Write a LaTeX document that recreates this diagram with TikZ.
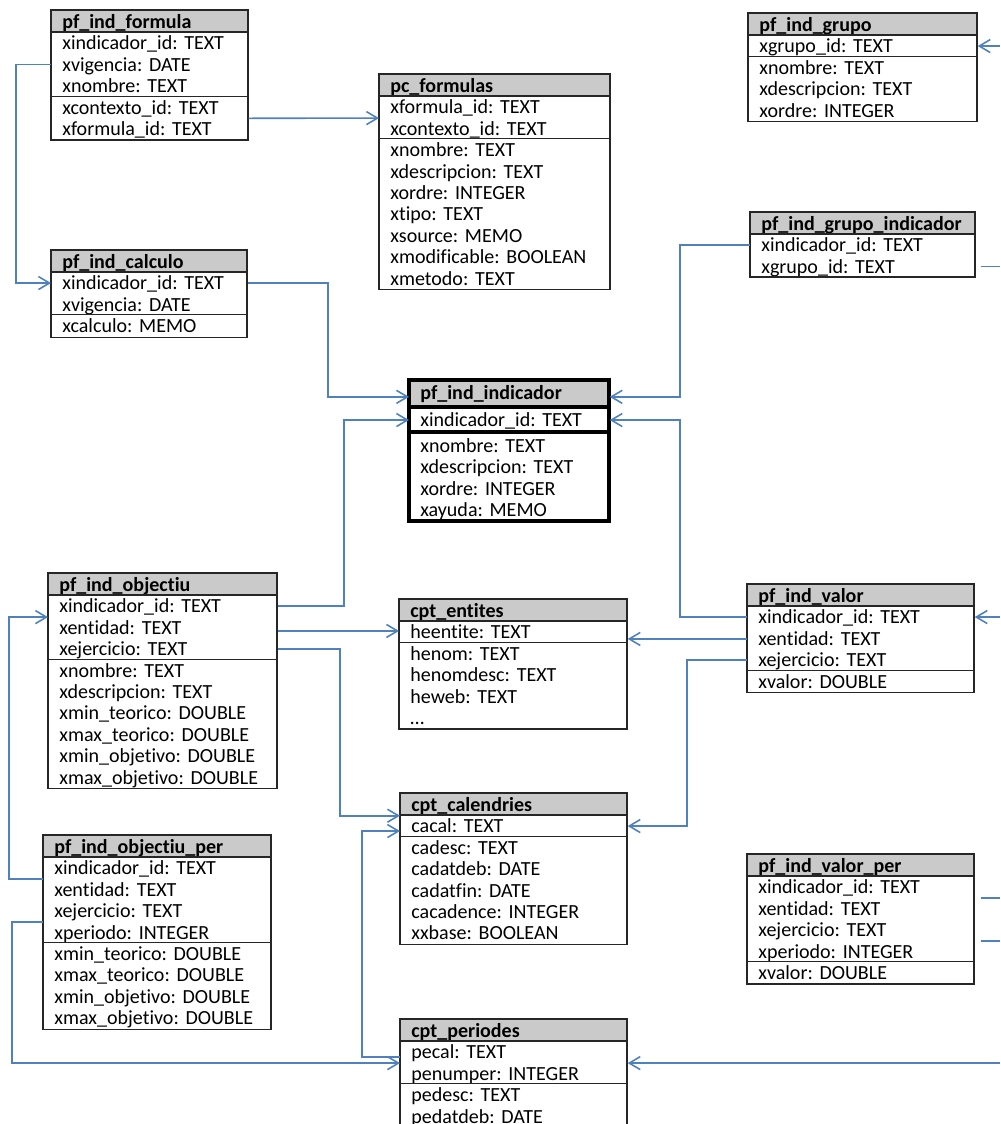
\documentclass[tikz,border=0pt]{standalone}
\usepackage{fontspec}
\setmainfont{Carlito}[Ligatures=NoCommon]
\usetikzlibrary{arrows.meta}
\definecolor{linkblue}{HTML}{4F81BD}
\definecolor{headgray}{HTML}{CACACA}
\frenchspacing

\begin{document}
\begin{tikzpicture}[x=0.02cm, y=-0.02cm,
    tableframe/.style = {draw=black!85, line width=0.7pt},
    tablehead/.style = {fill=headgray, anchor=north west, inner xsep=0.22cm, inner ysep=0pt,
        minimum height=\headh*0.02cm, font=\fontsize{11.4}{13}\selectfont\bfseries, align=left,
        text height=9.6pt, text depth=1.8pt},
    tablefield/.style = {anchor=north west, inner xsep=0.22cm, inner ysep=0pt,
        minimum height=\rowh*0.02cm, font=\fontsize{11.4}{13}\selectfont, align=left,
        text height=9.6pt, text depth=1.8pt},
    fklink/.style = {draw=linkblue, line width=0.9pt, -{Straight Barb[length=0.22cm, width=0.26cm]}},
    headh/.store in = \headh, sepgap/.store in = \sepgap,
    pics/entitytable/.style n args = {4}{code = {
        \pgfmathsetlengthmacro\tw{#1*0.02cm-0.44cm}
        \node[tablehead, text width=\tw] (-h) at (0,0) {#3};
        \foreach \f [count=\i] in {#4} {
          \pgfmathsetmacro\yy{\headh+\sepgap+(\i-1)*\rowh+(\i>#2)*\sepgap}
          \node[tablefield, text width=\tw] (-\i) at (0,\yy) {\f};
          \xdef\nfields{\i}
        }
        \draw[tableframe] (0,\headh+\sepgap/2) -- (#1,\headh+\sepgap/2);
        \draw[tableframe] (0,\headh+1.5*\sepgap+#2*\rowh) -- (#1,\headh+1.5*\sepgap+#2*\rowh);
        \draw[tableframe] (0,0) rectangle (#1,\headh+2*\sepgap+\nfields*\rowh+1);
    }}
  ]
  \def\headh{22} \def\rowh{21.4} \def\sepgap{0}
  \useasboundingbox (0,0) rectangle (1000,1124);

  % tables
  \pic (formula) at (51,10) {entitytable={197}{3}{pf\_ind\_formula}{xindicador\_id: TEXT, xvigencia: DATE, xnombre: TEXT, xcontexto\_id: TEXT, xformula\_id: TEXT}};
  \pic (pcform) at (379,74) {entitytable={231}{2}{pc\_formulas}{xformula\_id: TEXT, xcontexto\_id: TEXT, xnombre: TEXT, xdescripcion: TEXT, xordre: INTEGER, xtipo: TEXT, xsource: MEMO, xmodificable: BOOLEAN, xmetodo: TEXT}};
  \pic (grupo) at (748,13) {entitytable={229}{1}{pf\_ind\_grupo}{xgrupo\_id: TEXT, xnombre: TEXT, xdescripcion: TEXT, xordre: INTEGER}};
  \pic (grupoind) at (750,212) {entitytable={225}{2}{pf\_ind\_grupo\_indicador}{xindicador\_id: TEXT, xgrupo\_id: TEXT}};
  \pic (calculo) at (51,250) {entitytable={196}{2}{pf\_ind\_calculo}{xindicador\_id: TEXT, xvigencia: DATE, xcalculo: MEMO}};
  \pic[headh=25, sepgap=4, tableframe/.style={draw=black, line width=2.3pt}] (indicador) at (409,380)
      {entitytable={200}{1}{pf\_ind\_indicador}{xindicador\_id: TEXT, xnombre: TEXT, xdescripcion: TEXT, xordre: INTEGER, xayuda: MEMO}};
  \pic (objectiu) at (48,573) {entitytable={229}{3}{pf\_ind\_objectiu}{xindicador\_id: TEXT, xentidad: TEXT, xejercicio: TEXT, xnombre: TEXT, xdescripcion: TEXT, xmin\_teorico: DOUBLE, xmax\_teorico: DOUBLE, xmin\_objetivo: DOUBLE, xmax\_objetivo: DOUBLE}};
  \pic (entites) at (399,599) {entitytable={228}{1}{cpt\_entites}{heentite: TEXT, henom: TEXT, henomdesc: TEXT, heweb: TEXT, \dots}};
  \pic (valor) at (747,584) {entitytable={227}{3}{pf\_ind\_valor}{xindicador\_id: TEXT, xentidad: TEXT, xejercicio: TEXT, xvalor: DOUBLE}};
  \pic (calendries) at (400,793) {entitytable={227}{1}{cpt\_calendries}{cacal: TEXT, cadesc: TEXT, cadatdeb: DATE, cadatfin: DATE, cacadence: INTEGER, xxbase: BOOLEAN}};
  \pic (valorper) at (747,854) {entitytable={227}{4}{pf\_ind\_valor\_per}{xindicador\_id: TEXT, xentidad: TEXT, xejercicio: TEXT, xperiodo: INTEGER, xvalor: DOUBLE}};
  \pic (objper) at (43,835) {entitytable={228}{4}{pf\_ind\_objectiu\_per}{xindicador\_id: TEXT, xentidad: TEXT, xejercicio: TEXT, xperiodo: INTEGER, xmin\_teorico: DOUBLE, xmax\_teorico: DOUBLE, xmin\_objetivo: DOUBLE, xmax\_objetivo: DOUBLE}};
  \pic (periodes) at (400,1019) {entitytable={227}{2}{cpt\_periodes}{pecal: TEXT, penumper: INTEGER, pedesc: TEXT, pedatdeb: DATE}};

  % links
  \coordinate (borde) at (1000,0);
  \draw[fklink] (formula-2.west) -- ++(-35,0) |- (calculo-1.west);
  \draw[fklink] (formula-4.south east) -- (pcform-1.south west);
  \draw[fklink] (calculo-1.east) -- ++(80,0) |- ([yshift=-0.08cm]indicador-h.west);
  \draw[fklink] (objectiu-1.east) -- ++(66,0) |- (indicador-1.west);
  \draw[fklink] (grupoind-1.west) -- ++(-70,0) |- ([yshift=-0.08cm]indicador-h.east);
  \draw[fklink] (valor-1.west) -- ++(-67,0) |- (indicador-1.east);
  \draw[fklink] ([yshift=-0.01cm]valor-2.west) -- ([yshift=-0.01cm]valor-2.west -| entites-1.east);
  \draw[fklink] (valor-3.west) -- ++(-60,0) |- (calendries-1.east);
  \draw[fklink] ([yshift=-0.07cm]objectiu-2.east) -- ([yshift=-0.07cm]objectiu-2.east -| entites-1.west);
  \draw[fklink] (objectiu-3.east) -- ++(62,0) |- (calendries-h.south west);
  \draw[fklink] (objper-1.south west) -- ++(-34,0) |- (objectiu-1.south west);
  \draw[fklink] (objper-3.south west) -- ++(-31,0) |- (periodes-1.south west);
  \draw[fklink] ([yshift=-0.1cm]periodes-1.west) -- ++(-38,0) |- ([yshift=-0.1cm]calendries-1.west);
  % links leaving the page
  \draw[fklink] (borde |- grupo-1.east) -- (grupo-1.east);
  \draw[fklink, -] ([xshift=0.1cm]grupoind-2.east) -- (borde |- grupoind-2.east);
  \draw[fklink] (borde |- valor-1.east) -- (valor-1.east);
  \draw[fklink, -] ([xshift=0.12cm]valorper-1.south east) -- (borde |- valorper-1.south east);
  \draw[fklink, -] ([xshift=0.12cm]valorper-3.south east) -- (borde |- valorper-3.south east);
  \draw[fklink] (borde |- periodes-1.south east) -- (periodes-1.south east);
\end{tikzpicture}
\end{document}
